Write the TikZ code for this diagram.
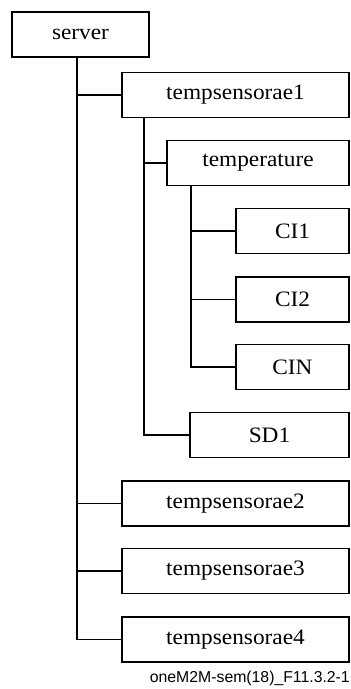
\documentclass[tikz,border=0pt]{standalone}
\usepackage{fontspec}
\newfontfamily\boxfont{Liberation Serif}[FakeStretch=1.06]
\newfontfamily\capfont{Liberation Sans}
\begin{document}
\begin{tikzpicture}[x=1pt,y=-1pt,
  bx/.style={draw, line width=1.3pt, rectangle, inner sep=0pt,
    minimum height=45pt, font=\boxfont\fontsize{22}{26}\selectfont},
  ln/.style={line width=1.3pt}]
\useasboundingbox (0,0) rectangle (351,689);
\node[bx, minimum width=137pt] (server) at (80.5,34.5) {server};
\node[bx, minimum width=227pt] (ts1) at (235.5,95) {tempsensorae1};
\node[bx, minimum width=182pt] (temp) at (258,163) {temperature};
\node[bx, minimum width=113pt] (ci1) at (292.5,231) {CI1};
\node[bx, minimum width=113pt] (ci2) at (292.5,299.5) {CI2};
\node[bx, minimum width=113pt] (cin) at (292.5,367) {CIN};
\node[bx, minimum width=159pt] (sd1) at (269.5,435) {SD1};
\node[bx, minimum width=227pt] (ts2) at (235.5,503.5) {tempsensorae2};
\node[bx, minimum width=227pt] (ts3) at (235.5,571) {tempsensorae3};
\node[bx, minimum width=227pt] (ts4) at (235.5,639.5) {tempsensorae4};
\node[anchor=base east, inner sep=0pt, font=\capfont\fontsize{15.8}{19}\selectfont] (cap) at (350,682) {oneM2M-sem(18)\_F11.3.2-1};
\coordinate (sx) at (77,0);
\coordinate (tx) at (144,0);
\coordinate (px) at (191,0);
\draw[ln] (server.south -| sx) |- (ts4.west);
\draw[ln] (sx |- ts1.west) -- (ts1.west);
\draw[ln] (sx |- ts2.west) -- (ts2.west);
\draw[ln] (sx |- ts3.west) -- (ts3.west);
\draw[ln] (ts1.south -| tx) |- (sd1.west);
\draw[ln] (tx |- temp.west) -- (temp.west);
\draw[ln] (temp.south -| px) |- (cin.west);
\draw[ln] (px |- ci1.west) -- (ci1.west);
\draw[ln] (px |- ci2.west) -- (ci2.west);
\end{tikzpicture}
\end{document}
